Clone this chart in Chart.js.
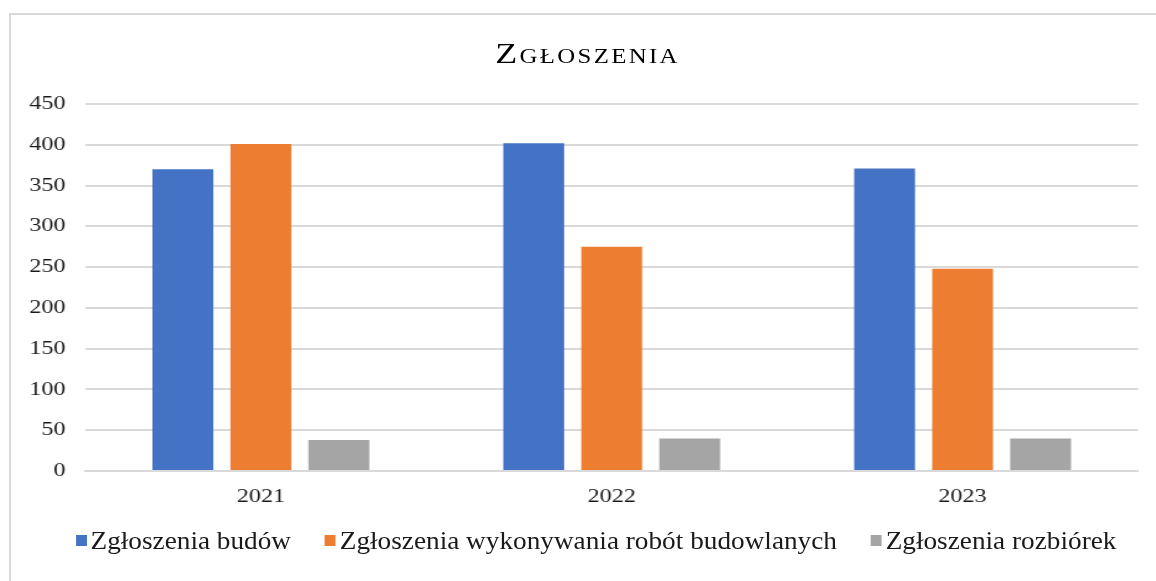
<!DOCTYPE html>
<html>
<head>
<meta charset="utf-8">
<script src="https://cdn.jsdelivr.net/npm/chart.js@4/dist/chart.umd.min.js"></script>
<style>
  html, body { margin: 0; padding: 0; background: #fff; overflow: hidden; }
  body { font-family: 'Liberation Serif', 'Times New Roman', serif; color: #1a1a1a; }
  #frame {
    position: absolute; left: 9px; top: 13px; width: 1160px; height: 580px;
    border-left: 2px solid #d9d9d9; border-top: 2px solid #d9d9d9; overflow: hidden;
  }
  /* the source picture is stretched sideways, so the chart is too */
  #wrap {
    position: absolute; left: 0; top: 0; width: 923px; height: 566px;
    transform: scaleX(1.2405); transform-origin: 0 0;
  }
  #title {
    position: absolute; left: 0; width: 1175px; top: 39px;
    text-align: center; font-size: 29px; line-height: 29px;
    font-variant: small-caps; letter-spacing: 1.9px; color: #000;
    transform: scaleX(1.24); transform-origin: 50% 0; white-space: nowrap;
  }
  #legend {
    position: absolute; left: 0; width: 1192px; top: 528px;
    display: flex; justify-content: center; align-items: center;
    font-size: 25px; line-height: 25px; white-space: nowrap;
    transform: scaleX(1.09); transform-origin: 50% 0;
  }
  .item { display: flex; align-items: center; margin: 0 15.5px; }
  .box { width: 10px; height: 11px; margin-right: 3.7px; }
</style>
</head>
<body>
<div id="frame"><div id="wrap"><canvas id="chart"></canvas></div></div>
<div id="title">Zgłoszenia</div>
<div id="legend"></div>
<script>
// --- DATA ---
const years = ['2021', '2022', '2023'];
const budowy = [370, 402, 371];
const roboty = [401, 275, 248];
const rozbiorki = [38, 40, 40];
const yTicks = [0, 50, 100, 150, 200, 250, 300, 350, 400, 450];

const SERIF = "'Liberation Serif', 'Times New Roman', serif";
const TEXT = '#1a1a1a';
const GRID = '#d9d9d9';

Chart.defaults.font.family = SERIF;
Chart.defaults.color = TEXT;

const chart = new Chart(document.getElementById('chart'), {
    type: 'bar',
    data: {
        labels: years,
        datasets: [
            { label: 'Zgłoszenia budów', data: budowy, backgroundColor: '#4472C4' },
            { label: 'Zgłoszenia wykonywania robót budowlanych', data: roboty, backgroundColor: '#ED7D31' },
            { label: 'Zgłoszenia rozbiórek', data: rozbiorki, backgroundColor: '#A5A5A5' }
        ]
    },
    options: {
        responsive: true,
        maintainAspectRatio: false,
        animation: false,
        datasets: { bar: { categoryPercentage: 0.667, barPercentage: 0.78 } },
        layout: { padding: { left: 0, right: 14.5, top: 89, bottom: 70 } },
        plugins: {
            title: { display: false },
            legend: { display: false },   // drawn as html below, tighter box/text gap
            tooltip: { enabled: false }
        },
        scales: {
            x: {
                grid: { display: false, drawTicks: false },
                border: { color: GRID, width: 2 },
                ticks: { color: TEXT, font: { family: SERIF, size: 19.5 }, padding: 14 },
                afterFit: s => { s.height = 40; }
            },
            y: {
                min: 0,
                max: 450,
                afterBuildTicks: s => { s.ticks = yTicks.map(v => ({ value: v })); },
                grid: { color: GRID, lineWidth: 2, drawTicks: false },
                border: { display: false },
                ticks: { color: TEXT, font: { family: SERIF, size: 19.5 }, padding: 16 },
                afterFit: s => { s.width = 60; }
            }
        }
    }
});

// --- LEGEND (from the chart's own datasets) ---
const legendEl = document.getElementById('legend');
chart.data.datasets.forEach(ds => {
    const item = document.createElement('div');
    item.className = 'item';
    const box = document.createElement('span');
    box.className = 'box';
    box.style.background = ds.backgroundColor;
    const txt = document.createElement('span');
    txt.textContent = ds.label;
    item.appendChild(box);
    item.appendChild(txt);
    legendEl.appendChild(item);
});
</script>
</body>
</html>
